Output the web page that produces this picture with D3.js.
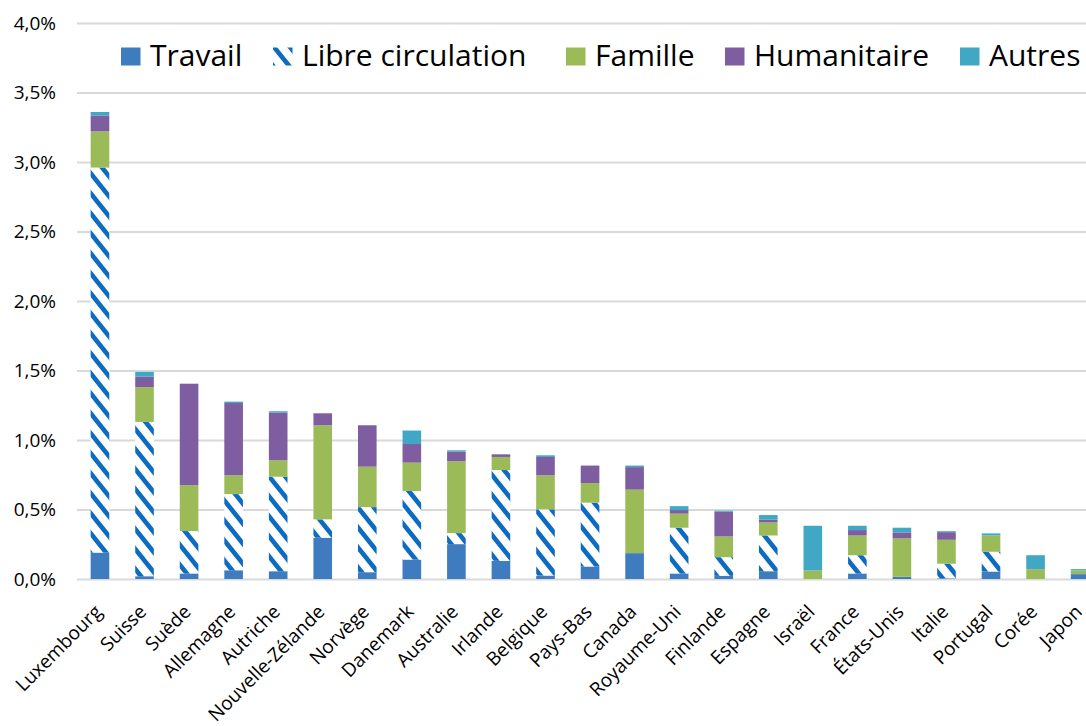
<!DOCTYPE html>
<html>
<head>
<meta charset="utf-8">
<script src="https://cdn.jsdelivr.net/npm/d3@7"></script>
<style>
  body { margin: 0; background: #fff; }
  svg { display: block; font-family: "Open Sans", sans-serif; }
</style>
</head>
<body>
<svg width="1086" height="726"></svg>
<script>
// pays, dans l'ordre du graphique
const countries = ["Luxembourg", "Suisse", "Suède", "Allemagne", "Autriche", "Nouvelle-Zélande",
    "Norvège", "Danemark", "Australie", "Irlande", "Belgique", "Pays-Bas", "Canada",
    "Royaume-Uni", "Finlande", "Espagne", "Israël", "France", "États-Unis", "Italie",
    "Portugal", "Corée", "Japon"];

// valeurs en % de la population
const travail =     [0.190, 0.020, 0.040, 0.063, 0.056, 0.297, 0.049, 0.140, 0.251, 0.131, 0.025, 0.090, 0.186, 0.040, 0.023, 0.056, 0.000, 0.040, 0.016, 0.005, 0.054, 0.000, 0.035];
const libre =       [2.770, 1.110, 0.305, 0.548, 0.680, 0.132, 0.468, 0.493, 0.079, 0.653, 0.476, 0.459, 0.000, 0.329, 0.134, 0.257, 0.000, 0.131, 0.000, 0.105, 0.142, 0.000, 0.000];
const famille =     [0.260, 0.250, 0.330, 0.135, 0.118, 0.677, 0.291, 0.204, 0.517, 0.094, 0.245, 0.141, 0.457, 0.101, 0.149, 0.094, 0.061, 0.142, 0.276, 0.172, 0.117, 0.071, 0.026];
const humanitaire = [0.115, 0.075, 0.730, 0.520, 0.343, 0.086, 0.298, 0.134, 0.070, 0.019, 0.132, 0.126, 0.162, 0.026, 0.178, 0.020, 0.000, 0.039, 0.043, 0.055, 0.000, 0.000, 0.000];
const autres =      [0.025, 0.035, 0.000, 0.010, 0.010, 0.000, 0.000, 0.097, 0.009, 0.000, 0.012, 0.000, 0.011, 0.028, 0.008, 0.033, 0.322, 0.031, 0.034, 0.007, 0.015, 0.100, 0.010];

const seriesNames = ["Travail", "Libre circulation", "Famille", "Humanitaire", "Autres"];
const yTicks = [0, 0.5, 1, 1.5, 2, 2.5, 3, 3.5, 4];

const seriesValues = [travail, libre, famille, humanitaire, autres];
const keys = ["travail", "libre", "famille", "humanitaire", "autres"];
const colors = ["#3f7cbf", "url(#hatch)", "#9bbb59", "#7e5ea0", "#40a8c4"];

const rows = countries.map((c, i) => {
    const row = { pays: c };
    keys.forEach((k, j) => row[k] = seriesValues[j][i]);
    return row;
});

const svg = d3.select("svg");

// motif hachuré pour "Libre circulation"
const defs = svg.append("defs");
function addHatch(id, x, y) {
    const p = defs.append("pattern")
        .attr("id", id)
        .attr("patternUnits", "userSpaceOnUse")
        .attr("x", x).attr("y", y)
        .attr("width", 16).attr("height", 20);
    p.append("rect").attr("width", 16).attr("height", 20).attr("fill", "#fff");
    p.append("path")
        .attr("d", "M-4,-5 L20,25 M12,-5 L20,5 M-4,15 L4,25")
        .attr("stroke", "#0e6cc0")
        .attr("stroke-width", 4.6);
}
addHatch("hatch", 0, 0);
addHatch("hatchLegend", 273, 47);

const x = d3.scaleBand()
    .domain(countries)
    .range([77.7, 1102.4])
    .paddingInner(0.582)
    .paddingOuter(0.291);

const y = d3.scaleLinear()
    .domain([0, 4])
    .range([579, 23]);

const fmt = d3.formatLocale({ decimal: ",", thousands: " ", grouping: [3], currency: ["", " €"] }).format(".1f");

// grille + étiquettes de l'axe vertical
const yAxis = svg.append("g")
    .attr("transform", "translate(77,0)")
    .call(d3.axisLeft(y)
        .tickValues(yTicks)
        .tickSize(-1030)
        .tickPadding(21)
        .tickFormat(d => fmt(d) + "%"));
yAxis.select(".domain").remove();
yAxis.selectAll(".tick line").attr("stroke", "#d9d9d9").attr("stroke-width", 2);
yAxis.selectAll(".tick text")
    .attr("font-family", "Open Sans")
    .attr("font-size", 19)
    .attr("fill", "#000");

// barres empilées
const stacked = d3.stack().keys(keys)(rows);

svg.append("g")
    .selectAll("g")
    .data(stacked)
    .join("g")
    .attr("fill", (d, i) => colors[i])
    .selectAll("rect")
    .data(d => d)
    .join("rect")
    .attr("x", d => x(d.data.pays))
    .attr("width", x.bandwidth())
    .attr("y", d => y(d[1]))
    .attr("height", d => y(d[0]) - y(d[1]));

// étiquettes des pays
svg.append("g")
    .selectAll("text")
    .data(countries)
    .join("text")
    .attr("transform", d => `translate(${x(d) + x.bandwidth() / 2 + 3},613) rotate(-45)`)
    .attr("text-anchor", "end")
    .attr("font-size", 19)
    .attr("fill", "#000")
    .text(d => d);

// légende
const legendX = [121, 273, 566, 725, 960];
const legend = svg.append("g")
    .selectAll("g")
    .data(seriesNames)
    .join("g")
    .attr("transform", (d, i) => `translate(${legendX[i]},0)`);

legend.append("rect")
    .attr("y", 47.5)
    .attr("width", 19.5)
    .attr("height", 18)
    .attr("fill", (d, i) => i === 1 ? "url(#hatchLegend)" : colors[i]);

legend.append("text")
    .attr("x", 29)
    .attr("y", 66)
    .attr("font-size", 30)
    .attr("fill", "#000")
    .text(d => d);
</script>
</body>
</html>
